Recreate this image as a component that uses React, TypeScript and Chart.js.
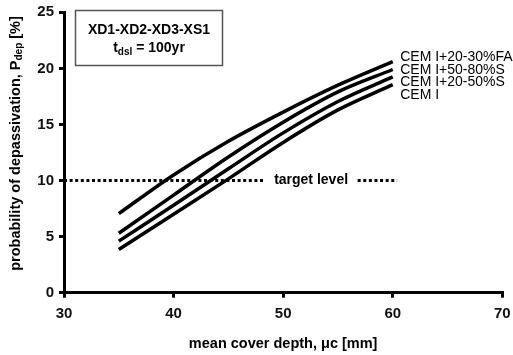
import { useEffect, useRef } from 'react';
import { Chart, registerables } from 'chart.js';

Chart.register(...registerables);

// ---- data ----
const coverDepth = [35, 40, 45, 50, 55, 60];
const seriesNames = ['CEM I+20-30%FA', 'CEM I+50-80%S', 'CEM I+20-50%S', 'CEM I'];
const pFA2030 = [7.05, 10.5, 13.5, 16.1, 18.5, 20.6];
const pS5080 = [5.3, 8.7, 12.1, 15.2, 17.9, 19.9];
const pS2050 = [4.6, 7.8, 11.05, 14.25, 17.05, 19.25];
const pCEMI = [3.85, 7.0, 10.15, 13.4, 16.3, 18.55];
const seriesValues = [pFA2030, pS5080, pS2050, pCEMI];
const targetLevel = 10;
const targetSegA = [30, 48.3];
const targetSegB = [56.8, 60.4];
const targetLabel = 'target level';
const xRange = [30, 70];
const yRange = [0, 25];
const xStep = 10;
const yStep = 5;
const exposureClasses = 'XD1-XD2-XD3-XS1';
const designLife = '100yr';

const FF = "'Liberation Sans', Arial, Helvetica, sans-serif";

type Part = { text: string; font: string; dy?: number };

function drawRich(ctx: CanvasRenderingContext2D, parts: Part[], x: number, y: number) {
  let total = 0;
  for (const p of parts) {
    ctx.font = p.font;
    total += ctx.measureText(p.text).width;
  }
  let cx = x - total / 2;
  ctx.textAlign = 'left';
  ctx.textBaseline = 'middle';
  for (const p of parts) {
    ctx.font = p.font;
    ctx.fillText(p.text, cx, y + (p.dy || 0));
    cx += ctx.measureText(p.text).width;
  }
}

const overlayPlugin = {
  id: 'overlay',
  afterDraw(chart: any) {
    const ctx: CanvasRenderingContext2D = chart.ctx;
    const xs = chart.scales.x;
    const ys = chart.scales.y;
    const area = chart.chartArea;
    ctx.save();
    ctx.fillStyle = '#000';

    // target level label
    const tx = (xs.getPixelForValue(targetSegA[1]) + xs.getPixelForValue(targetSegB[0])) / 2;
    const ty = ys.getPixelForValue(targetLevel);
    ctx.font = `bold 14px ${FF}`;
    ctx.textAlign = 'center';
    ctx.textBaseline = 'middle';
    ctx.fillText(targetLabel, tx, ty);

    // series labels
    const lx = xs.getPixelForValue(coverDepth[coverDepth.length - 1]) + 7.5;
    const ly0 = ys.getPixelForValue(pFA2030[pFA2030.length - 1]) - 4.3;
    ctx.font = `14px ${FF}`;
    ctx.textAlign = 'left';
    seriesNames.forEach((n, i) => ctx.fillText(n, lx, ly0 + i * 12.5));

    // annotation box
    const bx = area.left + 11.5;
    const by = area.top - 1.8;
    ctx.strokeStyle = '#555';
    ctx.lineWidth = 1.5;
    ctx.strokeRect(bx, by, 147, 55);
    ctx.fillStyle = '#000';
    const bcx = bx + 73.5;
    drawRich(ctx, [{ text: exposureClasses, font: `bold 14px ${FF}` }], bcx, by + 20);
    drawRich(
      ctx,
      [
        { text: 't', font: `bold 14px ${FF}` },
        { text: 'dsl', font: `bold 10px ${FF}`, dy: 3.5 },
        { text: ' = ' + designLife, font: `bold 14px ${FF}` },
      ],
      bcx,
      by + 38
    );

    // x title
    drawRich(ctx, [{ text: 'mean cover depth, μc [mm]', font: `bold 14.5px ${FF}` }], (area.left + area.right) / 2, 344);

    // y title
    ctx.save();
    ctx.translate(15.5, 143.5);
    ctx.rotate(-Math.PI / 2);
    drawRich(
      ctx,
      [
        { text: 'probability of depassivation, P', font: `bold 14.5px ${FF}` },
        { text: 'dep', font: `bold 10px ${FF}`, dy: 3.5 },
        { text: ' [%]', font: `bold 14.5px ${FF}` },
      ],
      0,
      0
    );
    ctx.restore();
    ctx.restore();
  },
};

export default function App() {
  const ref = useRef<HTMLCanvasElement | null>(null);
  useEffect(() => {
    if (!ref.current) return;
    const curveSets = seriesValues.map((vals, i) => ({
      label: seriesNames[i],
      data: coverDepth.map((x, j) => ({ x, y: vals[j] })),
      borderColor: '#000',
      borderWidth: 3.5,
      pointRadius: 0,
      fill: false,
      tension: 0.4,
      cubicInterpolationMode: 'monotone' as const,
      borderCapStyle: 'butt' as const,
    }));
    const targetSets = [targetSegA, targetSegB].map((seg, i) => ({
      label: 'target' + i,
      data: seg.map((x) => ({ x, y: targetLevel })),
      borderColor: '#000',
      borderWidth: 3,
      borderDash: [3, 2.6],
      borderCapStyle: 'butt' as const,
      pointRadius: 0,
      fill: false,
    }));
    const tickFont = { family: FF, size: 15, weight: 'bold' as const };
    const chart = new Chart(ref.current, {
      type: 'line',
      data: { datasets: [...targetSets, ...curveSets] as any },
      plugins: [overlayPlugin],
      options: {
        animation: false,
        responsive: false,
        devicePixelRatio: 1,
        layout: { padding: { top: 12.3, right: 10.7, left: 0, bottom: 0 } },
        plugins: { legend: { display: false }, tooltip: { enabled: false }, title: { display: false } },
        scales: {
          x: {
            type: 'linear',
            min: xRange[0],
            max: xRange[1],
            ticks: { stepSize: xStep, font: tickFont, color: '#111', padding: 7, maxRotation: 0 },
            grid: { drawOnChartArea: false, drawTicks: true, tickLength: 5, lineWidth: 3, color: '#000' },
            border: { display: true, width: 3, color: '#000' },
            afterFit: (s: any) => {
              s.height = 62.3;
              s.paddingRight = 0;
              s.paddingLeft = 0;
            },
          },
          y: {
            type: 'linear',
            min: yRange[0],
            max: yRange[1],
            ticks: { stepSize: yStep, font: tickFont, color: '#111', padding: 5 },
            grid: { drawOnChartArea: false, drawTicks: true, tickLength: 5, lineWidth: 3, color: '#000' },
            border: { display: true, width: 3, color: '#000' },
            afterFit: (s: any) => {
              s.width = 64;
              s.paddingTop = 0;
              s.paddingBottom = 0;
            },
          },
        },
      },
    });
    return () => chart.destroy();
  }, []);
  return (
    <div style={{ position: 'absolute', left: 0, top: 0, width: 513, height: 355, background: '#fff' }}>
      <canvas ref={ref} width={513} height={355} style={{ display: 'block', width: 513, height: 355 }} />
    </div>
  );
}
